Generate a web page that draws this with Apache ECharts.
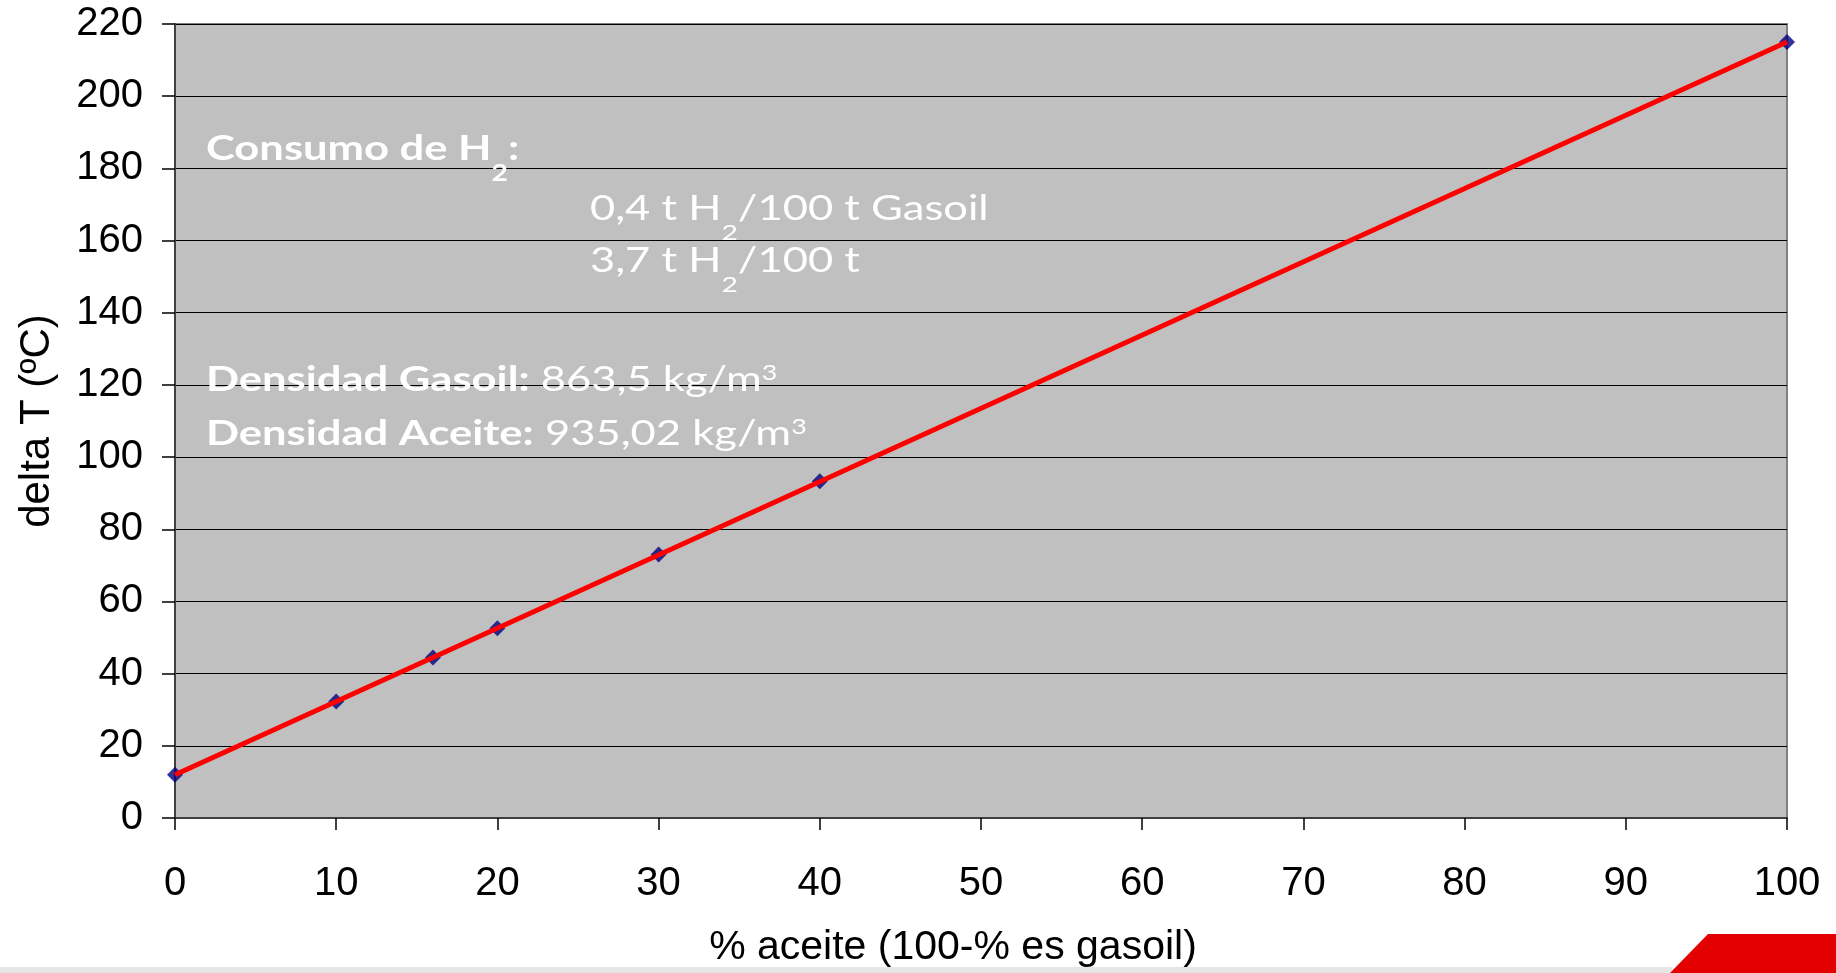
<!DOCTYPE html>
<html><head><meta charset="utf-8">
<script src="https://cdn.jsdelivr.net/npm/echarts@6/dist/echarts.min.js"></script>
<style>html,body{margin:0;padding:0;background:#fff}#c{width:1836px;height:973px}</style>
</head><body><div id="c"></div><script>
// Data
const pctAceite = [0, 10, 16, 20, 30, 40, 100];
const deltaT = [12, 32.3, 44.5, 52.6, 73, 93.3, 215];
// linear trend line endpoints
const trendX = [0, 100];
const trendY = [12, 215];
const xName = '% aceite (100-% es gasoil)';
const yName = 'delta T (ºC)';
const noteLines = [
  '{b|Consumo de H}{bs|2}{b|:}',
  '{r|0,4 t H}{rs|2}{r|/100 t Gasoil}',
  '{r|3,7 t H}{rs|2}{r|/100 t}',
  '{b|Densidad Gasoil:}{r| 863,5 kg/m}{sup|3}',
  '{b|Densidad Aceite:}{r| 935,02 kg/m}{sup|3}'
];

const F = '"Liberation Sans", Arial, sans-serif';
const NF = 'Lato, "Noto Sans", sans-serif';
const NS = 34;
const rich = {
  b: {fontFamily: NF, fontSize: NS, fontWeight: 'bold', fill: '#fff', lineHeight: 40, verticalAlign: 'top'},
  r: {fontFamily: NF, fontSize: NS, fontWeight: 'normal', fill: '#fff', lineHeight: 40, verticalAlign: 'top'},
  bs: {fontFamily: NF, fontSize: 22, fontWeight: 'bold', fill: '#fff', lineHeight: 20, padding: [31, 0, 0, 0], verticalAlign: 'top'},
  rs: {fontFamily: NF, fontSize: 22, fontWeight: 'normal', fill: '#fff', lineHeight: 20, padding: [30, 0, 0, 0], verticalAlign: 'top'},
  sup: {fontFamily: NF, fontSize: 21, fontWeight: 'normal', fill: '#fff', lineHeight: 20, padding: [0, 0, 0, 0], verticalAlign: 'top'}
};
const notePos = [[206, 132], [590, 192], [590, 244], [206, 363], [206, 417]];

const chart = echarts.init(document.getElementById('c'), null, {renderer: 'canvas'});
chart.setOption({
  animation: false,
  backgroundColor: '#fff',
  grid: {left: 175, top: 24, right: 49, bottom: 152, show: true, backgroundColor: '#C0C0C0', borderColor: '#808080', borderWidth: 2},
  xAxis: {
    type: 'value', min: 0, max: 100, interval: 10,
    name: xName, nameLocation: 'middle', nameGap: 109,
    nameTextStyle: {fontFamily: F, fontSize: 41, color: '#000', padding: [0, 56, 0, 0]},
    axisLine: {show: true, onZero: false, lineStyle: {color: '#404040', width: 2}},
    axisTick: {show: true, inside: false, length: 12, lineStyle: {color: '#000', width: 1.5}},
    axisLabel: {fontFamily: F, fontSize: 40, color: '#000', margin: 46},
    splitLine: {show: false}
  },
  yAxis: {
    type: 'value', min: 0, max: 220, interval: 20,
    name: yName, nameLocation: 'middle', nameGap: 117, nameRotate: 90,
    nameTextStyle: {fontFamily: F, fontSize: 42, color: '#000'},
    axisLine: {show: true, onZero: false, lineStyle: {color: '#404040', width: 2}},
    axisTick: {show: true, inside: false, length: 13, lineStyle: {color: '#000', width: 1.5}},
    axisLabel: {fontFamily: F, fontSize: 40, color: '#000', margin: 32},
    splitLine: {show: true, lineStyle: {color: '#000', width: 1}}
  },
  series: [
    {
      type: 'scatter', symbol: 'diamond', symbolSize: 16, clip: false,
      itemStyle: {color: '#000080'},
      data: pctAceite.map((x, i) => [x, deltaT[i]]), z: 3
    },
    {
      type: 'line', showSymbol: false, symbol: 'none', clip: false,
      lineStyle: {color: '#FF0000', width: 5},
      data: trendX.map((x, i) => [x, trendY[i]]), z: 4
    }
  ],
  graphic: [
    {type: 'rect', shape: {x: 0, y: 967, width: 1672, height: 6}, style: {fill: '#E6E6E6'}, silent: true, z: -1},
    {type: 'polygon', shape: {points: [[1670, 973], [1708, 934], [1836, 934], [1836, 973]]}, style: {fill: '#E30000'}, silent: true}
  ].concat(noteLines.map((t, i) => ({
    type: 'text', x: notePos[i][0], y: notePos[i][1], scaleX: 1.28, z: 10, silent: true,
    style: {text: t, rich: rich, verticalAlign: 'top', align: 'left', fill: '#fff', fontFamily: NF, fontSize: NS}
  })))
});
</script></body></html>
